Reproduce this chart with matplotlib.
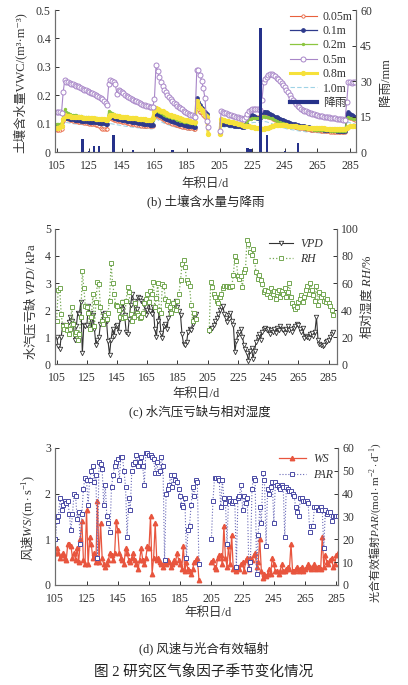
import numpy as np
import matplotlib
matplotlib.use('Agg')
import matplotlib.pyplot as plt
from matplotlib.lines import Line2D

plt.rcParams['font.family'] = ['Liberation Serif', 'Noto Sans CJK SC', 'DejaVu Sans']
plt.rcParams['mathtext.fontset'] = 'custom'
plt.rcParams['mathtext.rm'] = 'Liberation Serif'
plt.rcParams['mathtext.it'] = 'Liberation Serif:italic'

nan = float('nan')

# ---------------- data (day of year 105 .. 288) ----------------
days = np.arange(105, 289)
xticks = list(range(105, 286, 20))

# soil water content, m3/m3
vwc_005 = [
    .078, .078, .078, .080, .110, .122, .118, .115, .113, .112,
    .110, .109, .108, .107, .106, .105, .104, .103, .102, .101,
    .100, .099, .098, .097, .096, .095, .090, .083, .082, .082,
    .081, .080, .120, .118, .116, .114, .112, .110, .109, .108,
    .106, .105, .104, .102, .101, .100, .099, .098, .097, .096,
    .095, .094, .093, .093, .092, .091, .091, .090, .090, .090,
    .125, .130, .126, .122, .118, .115, .112, .109, .106, .104,
    .102, .100, .098, .096, .094, .092, .091, .089, .088, .087,
    .086, .085, .084, .083, .082, .080, .160, .150, .142, .136,
    .130, .124, .118, nan, nan, nan, nan, nan, nan, nan,
    nan, .105, .104, .103, .102, .101, .100, .099, .098, .097,
    .096, .095, .094, .093, .092, .090, .100, .115, .120, .121,
    .122, .123, .123, .124, .125, .125, .130, .130, .128, .126,
    .124, .122, .120, .117, .114, .111, .108, .106, .104, .102,
    .100, .098, .096, .094, .092, .090, .089, .088, .087, .086,
    .085, .084, .083, .082, .081, .080, .079, .078, .077, .077,
    .076, .076, .075, .075, .074, .074, .073, .073, .072, .072,
    .072, .071, .071, .070, .070, .070, .070, .069, .125, .122,
    .120, .118, .116, .114]
vwc_01 = [
    .090, .090, .090, .092, .115, .125, .120, .118, .117, .116,
    .115, .114, .113, .112, .111, .110, .110, .109, .108, .108,
    .107, .106, .106, .105, .104, .104, .103, .102, .102, .101,
    .100, .100, .125, .124, .122, .120, .118, .117, .116, .115,
    .114, .112, .111, .110, .109, .108, .107, .106, .105, .104,
    .103, .102, .101, .100, .099, .098, .097, .096, .095, .095,
    .130, .138, .134, .130, .126, .123, .120, .117, .115, .112,
    .110, .108, .106, .104, .102, .100, .099, .097, .096, .094,
    .093, .092, .091, .090, .089, .088, .190, .175, .165, .155,
    .145, .140, .135, nan, nan, nan, nan, nan, nan, nan,
    nan, .100, .099, .098, .097, .097, .096, .095, .094, .093,
    .093, .092, .091, .090, .089, .088, .100, .125, .135, .132,
    .129, .126, .123, .121, .119, .120, .140, .142, .140, .140,
    .138, .135, .132, .128, .125, .122, .119, .116, .113, .111,
    .108, .106, .104, .102, .100, .098, .097, .095, .094, .093,
    .092, .091, .090, .089, .088, .087, .086, .085, .084, .083,
    .082, .081, .080, .080, .079, .079, .078, .078, .077, .077,
    .076, .076, .075, .075, .075, .074, .074, .074, .135, .140,
    .135, .130, .127, .123]
vwc_02 = [
    .100, .100, .100, .102, .130, .150, .142, .137, .134, .132,
    .131, .130, .129, .128, .127, .126, .125, .124, .123, .122,
    .121, .121, .120, .119, .118, .118, .117, .116, .116, .115,
    .115, .114, .145, .140, .136, .133, .131, .129, .127, .126,
    .125, .124, .123, .122, .121, .120, .119, .118, .117, .116,
    .116, .115, .114, .114, .113, .113, .112, .112, .111, .112,
    .140, .148, .144, .140, .137, .134, .131, .128, .126, .124,
    .122, .120, .118, .116, .114, .112, .110, .109, .107, .106,
    .105, .104, .103, .102, .101, .100, .170, .160, .152, .146,
    .140, .135, .130, nan, nan, nan, nan, nan, nan, nan,
    nan, .110, .109, .108, .107, .106, .105, .104, .103, .102,
    .101, .100, .099, .098, .097, .096, .100, .110, .115, .117,
    .118, .119, .120, .120, .121, .121, .125, .126, .125, .124,
    .122, .120, .118, .115, .112, .110, .107, .105, .103, .101,
    .099, .097, .095, .093, .092, .090, .089, .088, .087, .086,
    .085, .084, .083, .082, .081, .081, .080, .080, .079, .079,
    .078, .078, .077, .077, .077, .076, .076, .076, .075, .075,
    .075, .075, .074, .074, .074, .074, .074, .074, .120, .122,
    .120, .118, .116, .115]
vwc_05 = [
    .140, .140, .140, .138, .210, .255, .248, .246, .243, .241,
    .239, .236, .234, .231, .228, .225, .222, .220, .217, .214,
    .211, .208, .206, .203, .199, .196, .193, .189, .185, .180,
    .174, .167, .240, .255, .250, .246, .238, .205, .218, .214,
    .210, .206, .202, .198, .194, .190, .187, .184, .181, .178,
    .175, .172, .170, .167, .165, .163, .162, .160, .158, .160,
    .185, .305, .285, .265, .245, .232, .220, .210, .200, .192,
    .185, .179, .173, .168, .163, .158, .154, .150, .146, .142,
    .138, .135, .132, .129, .127, .125, .287, .287, .272, .250,
    .225, .190, .110, .088, nan, nan, nan, nan, nan, nan,
    .073, .143, .140, .138, .136, .134, .132, .130, .128, .126,
    .124, .122, .120, .118, .116, .115, .125, .135, .143, .148,
    .150, .152, .152, .152, .150, .148, .182, .245, .258, .265,
    .270, .274, .275, .272, .268, .262, .256, .250, .243, .236,
    .228, .220, .210, .200, .190, .182, .175, .168, .162, .157,
    .153, .149, .146, .143, .141, .139, .137, .135, .133, .131,
    .130, .128, .127, .126, .125, .124, .123, .122, .121, .120,
    .119, .118, .117, .116, .115, .115, .114, .114, .175, .245,
    .245, .243, .246, .247]
vwc_08 = [
    .085, .085, .087, .090, .115, .130, .128, .127, .126, .125,
    .124, .124, .123, .123, .122, .122, .121, .121, .120, .120,
    .119, .119, .118, .118, .117, .117, .116, .116, .115, .115,
    .114, .113, .125, .130, .130, .129, .128, .127, .126, .125,
    .124, .124, .123, .122, .121, .121, .120, .119, .118, .118,
    .117, .116, .116, .115, .115, .114, .114, .113, .113, .120,
    .145, .155, .152, .149, .146, .143, .140, .137, .135, .132,
    .130, .128, .126, .124, .122, .120, .118, .116, .114, .112,
    .111, .110, .108, .107, .106, .105, .180, .165, .155, .148,
    .140, .130, .124, .063, nan, nan, nan, nan, nan, nan,
    .063, .115, .113, .112, .110, .109, .107, .106, .104, .103,
    .101, .100, .098, .097, .095, .093, .092, .091, .090, .089,
    .088, .087, .086, .085, .084, .083, .082, .082, .083, .084,
    .086, .088, .090, .092, .094, .095, .096, .096, .095, .095,
    .094, .094, .093, .092, .092, .091, .090, .090, .089, .089,
    .088, .088, .087, .087, .086, .086, .085, .085, .085, .084,
    .084, .084, .083, .083, .083, .082, .082, .082, .081, .081,
    .081, .081, .080, .080, .080, .080, .080, .082, .085, .088,
    .090, .091, .092, .093]
vwc_10 = [
    .082, .082, .082, .083, .095, .105, .104, .103, .102, .101,
    .100, .099, .099, .098, .097, .097, .096, .095, .095, .094,
    .093, .093, .092, .092, .091, .091, .090, .090, .089, .089,
    .088, .088, .100, .100, .099, .098, .097, .096, .095, .094,
    .093, .092, .091, .090, .090, .089, .088, .087, .087, .086,
    .085, .085, .084, .084, .083, .083, .082, .082, .081, .082,
    .110, .118, .114, .110, .107, .104, .101, .099, .097, .095,
    .093, .091, .089, .088, .086, .085, .083, .082, .081, .079,
    .078, .077, .076, .075, .074, .073, .150, .140, .133, .127,
    .122, .117, .112, nan, nan, nan, nan, nan, nan, nan,
    nan, .090, .089, .088, .088, .087, .086, .085, .085, .084,
    .083, .083, .082, .081, .081, .080, .085, .095, .100, .102,
    .103, .104, .104, .105, .105, .106, .108, .108, .107, .106,
    .104, .102, .100, .097, .095, .093, .091, .089, .087, .085,
    .084, .082, .081, .080, .079, .078, .077, .076, .075, .074,
    .073, .073, .072, .071, .071, .070, .070, .069, .069, .068,
    .068, .067, .067, .067, .066, .066, .066, .065, .065, .065,
    .065, .064, .064, .064, .064, .063, .063, .063, .100, .105,
    .103, .101, .100, .099]

rain_day = [121, 125, 128, 131, 140, 152, 176, 222, 224, 230, 234, 245, 253]
rain_mm = [5.5, 0.6, 2.6, 2.5, 7.3, 1.0, 0.7, 1.6, 1.2, 52.5, 7.3, 0.4, 3.8]

# vapour pressure deficit (kPa) and relative humidity (%)
vpd = [
    1.00, 0.65, 0.55, 1.00, 1.45, 1.40, 1.30, 1.25, 1.55, 1.75,
    1.60, 1.50, 0.90, 1.40, 1.90, 1.85, 2.30, 0.40, 1.45, 1.40,
    1.45, 2.15, 1.90, 1.30, 1.80, 1.30, 0.70, 0.90, 1.00, 1.50,
    1.60, 1.85, 1.90, 1.60, 0.85, 0.35, 0.90, 1.30, 1.05, 1.40,
    1.45, 1.20, 1.65, 2.05, 2.30, 1.80, 1.20, 1.10, 1.65, 2.20,
    2.60, 2.35, 1.80, 2.05, 2.50, 2.45, 2.35, 2.25, 2.20, 1.80,
    2.00, 2.30, 1.95, 1.85, 2.10, 1.30, 1.00, 1.60, 1.90, 1.15,
    0.95, 1.40, 1.50, 1.30, 1.70, 1.90, 1.95, 2.15, 2.25, 2.35,
    2.10, 1.95, 1.80, 1.10, 0.75, 0.70, 0.80, 1.20, 1.30, 1.25,
    1.50, 1.80, 1.85, nan, nan, nan, nan, nan, nan, nan,
    nan, 1.22, 1.30, 1.35, 1.45, 1.60, 1.70, 1.85, 2.00, 2.10,
    2.15, 1.85, 1.70, 1.55, 1.80, 1.90, 1.60, 1.45, 0.46, 0.85,
    1.10, 1.20, 1.30, 1.00, 0.70, 0.55, 0.40, 0.10, 0.50, 0.60,
    0.20, 0.50, 0.80, 1.00, 1.10, 0.90, 1.20, 1.30, 1.32, 1.25,
    1.30, 1.10, 1.25, 1.20, 1.30, 1.15, 1.35, 1.25, 1.40, 1.30,
    1.25, 1.15, 1.30, 1.40, 1.25, 1.30, 1.20, 1.35, 1.40, 1.50,
    1.45, 1.30, 1.20, 1.35, 0.95, 1.05, 1.00, 0.95, 1.10, 1.15,
    1.05, 1.20, 1.75, 0.90, 0.75, 0.70, 0.65, 0.70, 0.80, 0.85,
    0.90, 1.00, 1.10, 1.20]
rh = [
    32, 55, 56, 37, 28, 26, 29, 25, 22, 26,
    42, 30, 22, 24, 18, 22, 35, 69, 56, 43,
    42, 38, 26, 35, 52, 28, 46, 61, 59, 42,
    32, 30, 36, 33, 38, 47, 75, 60, 52, 44,
    43, 40, 35, 46, 34, 35, 47, 57, 53, 37,
    32, 35, 45, 38, 36, 34, 35, 38, 45, 48,
    52, 46, 54, 52, 61, 42, 49, 60, 40, 38,
    59, 58, 48, 44, 47, 42, 38, 45, 41, 40,
    47, 52, 62, 74, 77, 72, 62, 60, 58, 44,
    32, 38, 33, nan, nan, nan, nan, nan, nan, nan,
    nan, 25, 61, 57, 52, 50, 47, 45, 50, 52,
    56, 58, 58, 58, 57, 57, 58, 66, 80, 76,
    65, 63, 65, 57, 68, 70, 92, 89, 83, 81,
    85, 76, 68, 63, 66, 62, 59, 53, 55, 52,
    54, 50, 56, 52, 54, 48, 53, 55, 50, 54,
    52, 56, 50, 53, 60, 50, 45, 43, 41, 42,
    46, 48, 51, 46, 50, 55, 58, 52, 60, 55,
    51, 47, 58, 44, 53, 50, 52, 47, 46, 48,
    45, 43, 40, 36]

# wind speed (m/s) and PAR (mol m-2 d-1)
ws = [
    0.70, 0.80, 0.70, 0.60, 0.65, 0.70, 0.60, 0.55, 0.90, 0.90,
    0.85, 0.60, 0.70, 0.55, 0.80, 0.50, 1.00, 1.40, 0.55, 0.45,
    1.65, 0.45, 1.05, 0.90, 0.60, 0.70, 0.50, 1.85, 0.50, 1.35,
    0.60, 0.45, 0.40, 0.45, 0.55, 0.70, 0.65, 0.55, 0.70, 1.40,
    1.20, 0.70, 0.60, 0.55, 0.45, 0.80, 0.70, 0.55, 0.50, 0.60,
    0.70, 0.55, 0.45, 0.35, 0.55, 0.80, 0.55, 0.45, 0.60, 0.85,
    0.80, 1.50, 0.25, 0.60, 1.35, 0.55, 0.60, 0.50, 0.45, 0.40,
    0.50, 0.45, 0.55, 0.50, 0.40, 0.45, 0.55, 0.50, 0.70, 0.55,
    0.45, 0.35, 0.85, 0.30, 0.50, 0.35, 0.30, 0.25, 0.35, 0.50,
    0.55, 0.60, 0.12, nan, nan, nan, nan, nan, nan, nan,
    0.50, 0.55, 0.40, 0.35, 0.60, 0.65, 0.65, 0.45, 1.30, 0.60,
    0.40, 0.85, 0.45, 1.10, 0.35, 0.40, 0.30, 0.40, 0.35, 0.45,
    0.50, 0.30, 0.55, 0.60, 0.35, 0.60, 0.55, 0.65, 0.70, 0.40,
    0.50, 1.00, 0.30, 0.15, 0.25, 0.20, 0.25, 0.35, 0.25, 0.60,
    0.45, 0.30, 0.30, 0.25, 0.30, 0.45, 0.30, 0.30, 0.35, 0.40,
    0.35, 0.90, 0.30, 0.30, 0.35, 0.40, 0.30, 0.35, 0.40, 0.30,
    0.35, 0.40, 0.45, 0.40, 0.35, 0.40, 0.45, 0.35, 0.40, 0.40,
    0.35, 1.05, 0.40, 0.65, 0.50, 0.45, 0.55, 0.60, 0.40, 0.45,
    0.65, 0.70, nan, nan]
par = [
    20, 28, 30, 38, 33, 35, 37, 36, 37, 31,
    24, 31, 40, 39, 29, 32, 18, 31, 42, 47,
    46, 35, 46, 50, 52, 45, 48, 12, 54, 53,
    51, 35, 44, 30, 27, 23, 43, 48, 52, 54,
    55, 46, 56, 56, 50, 43, 21, 38, 33, 50,
    53, 54, 57, 52, 54, 56, 52, 44, 58, 58,
    57, 57, 56, 55, 49, 54, 49, 50, 56, 52,
    11, 40, 42, 44, 48, 43, 48, 46, 45, 42,
    39, 35, 34, 38, 12, 24, 26, 35, 43, 39,
    46, 45, 9, nan, nan, nan, nan, nan, nan, nan,
    20, 37, 47, 47, 47, 46, 34, 46, 38, 36,
    18, 38, 37, 36, 37, 37, 8, 38, 39, 44,
    33, 39, 36, 38, 7, 10, 42, 47, 46, 5,
    22, 34, 27, 49, 46, 17, 42, 40, 43, 45,
    27, 45, 44, 43, 42, 44, 43, 21, 43, 42,
    41, 41, 40, 39, 34, 32, 30, 38, 38, 37,
    37, 37, 36, 23, 26, 26, 34, 34, 33, 33,
    34, 33, 16, 33, 31, 32, 32, 28, 30, 30,
    30, 30, nan, nan]

TXT = '#333333'
SPINE = '#6e6e6e'
CJK = 'Noto Sans CJK SC'


def style(ax, ax2, xlim):
    for a in (ax, ax2):
        a.spines['top'].set_visible(False)
        for s in ('left', 'right', 'bottom'):
            a.spines[s].set_color(SPINE)
            a.spines[s].set_linewidth(0.8)
        a.tick_params(direction='in', length=3, width=0.7, colors=TXT,
                      labelsize=8.5, pad=3)
    ax.tick_params(axis='x', pad=5.5)
    ax.set_xlim(*xlim)
    ax.set_xticks(xticks)
    ax.set_xlabel('年积日/d', fontsize=9, color=TXT)


fig = plt.figure(figsize=(4.08, 6.85), dpi=100)

# ---------------- (b) soil water content and rain ----------------
ax = fig.add_axes([0.1348, 0.7781, 0.7377, 0.2073])
ax2 = ax.twinx()
l10m = ax.plot(days, vwc_10, color='#9fd3e6', lw=0.8, dashes=(4, 2))[0]
l005 = ax.plot(days, vwc_005, color='#e8603c', lw=0.8, marker='o', ms=2.4,
               mfc='white', mew=0.6)[0]
l01 = ax.plot(days, vwc_01, color='#2e3a8c', lw=0.9, marker='o', ms=2.4)[0]
l02 = ax.plot(days, vwc_02, color='#8cc63f', lw=0.9, marker='o', ms=1.4)[0]
l08 = ax.plot(days, vwc_08, color='#f6e13a', lw=2.2, marker='o', ms=2.8)[0]
l05 = ax.plot(days, vwc_05, color='#a886c8', lw=0.8, marker='o', ms=3.6,
              mfc='white', mew=0.7)[0]
ax2.bar(rain_day, rain_mm, width=1.5, color='#25318a')
ax.set_ylim(0, 0.5)
ax.set_yticks([0, 0.1, 0.2, 0.3, 0.4, 0.5], ['0', '0.1', '0.2', '0.3', '0.4', '0.5'])
ax2.set_ylim(0, 60)
ax2.set_yticks([0, 15, 30, 45, 60])
style(ax, ax2, (104, 288.7))
ax.set_ylabel('土壤含水量VWC/(m³·m⁻³)', fontsize=9, color=TXT)
ax.yaxis.set_label_coords(-0.09, 0.49)
ax2.set_ylabel('降雨/mm', fontsize=9, color=TXT)
ax2.yaxis.set_label_coords(1.08, 0.49)
ax.xaxis.set_label_coords(0.5, -0.18)
rain_h = Line2D([], [], color='#25318a', lw=3)
ax2.legend([l005, l01, l02, l05, l08, l10m, rain_h],
           ['0.05m', '0.1m', '0.2m', '0.5m', '0.8m', '1.0m', '降雨'],
           loc='upper left', bbox_to_anchor=(0.78, 0.995), frameon=False,
           fontsize=8.5, handlelength=2.3, handletextpad=0.5,
           labelspacing=0.2, borderpad=0, borderaxespad=0, labelcolor=TXT)
fig.text(0.505, 0.705, '(b) 土壤含水量与降雨', ha='center', va='center',
         fontsize=9, color='#222222')

# ---------------- (c) VPD and RH ----------------
ax = fig.add_axes([0.1348, 0.4686, 0.6912, 0.1971])
ax2 = ax.twinx()
lv = ax.plot(days, vpd, color='#333333', lw=0.8, marker='v', ms=3.2,
             mfc='white', mew=0.6)[0]
lr = ax2.plot(days, rh, color='#74a852', lw=0.9, ls=':', marker='s', ms=3.4,
              mfc='white', mew=0.7)[0]
ax.set_ylim(0, 5)
ax.set_yticks([0, 1, 2, 3, 4, 5])
ax2.set_ylim(0, 100)
ax2.set_yticks([0, 20, 40, 60, 80, 100])
style(ax, ax2, (103.9, 290.6))
ax.set_ylabel(r'水汽压亏缺 $\mathit{VPD}\mathrm{/\ kPa}$', fontsize=9,
              color=TXT, family=CJK)
ax.yaxis.set_label_coords(-0.06, 0.46)
ax2.set_ylabel(r'相对湿度 $\mathit{RH}\mathrm{/\%}$', fontsize=9,
               color=TXT, family=CJK)
ax2.yaxis.set_label_coords(1.074, 0.5)
ax.xaxis.set_label_coords(0.5, -0.18)
ax2.legend([lv, lr], ['VPD', 'RH'], loc='upper left',
           bbox_to_anchor=(0.76, 0.93), frameon=False,
           prop={'family': 'Liberation Serif', 'style': 'italic', 'size': 8.5},
           handlelength=2.0, handletextpad=0.6, labelspacing=0.2,
           borderpad=0, borderaxespad=0, labelcolor=TXT)
fig.text(0.49, 0.399, '(c) 水汽压亏缺与相对湿度', ha='center', va='center',
         fontsize=9, color='#222222')

# ---------------- (d) wind speed and PAR ----------------
ax = fig.add_axes([0.1348, 0.146, 0.6936, 0.2])
ax2 = ax.twinx()
lw_ = ax.plot(days, ws, color='#e8553e', lw=0.9, marker='^', ms=3.2)[0]
lp = ax2.plot(days, par, color='#6a6ab8', lw=0.8, ls=':', marker='s', ms=3.4,
              mfc='white', mec='#4b4ba5', mew=0.7)[0]
ax.set_ylim(0, 3)
ax.set_yticks([0, 1, 2, 3])
ax2.set_ylim(0, 60)
ax2.set_yticks([0, 10, 20, 30, 40, 50, 60])
style(ax, ax2, (104.8, 286.1))
ax.set_ylabel(r'风速$\mathit{WS}\mathrm{/(m\cdot s^{-1})}$', fontsize=9,
              color=TXT, family=CJK)
ax.yaxis.set_label_coords(-0.064, 0.49)
ax2.set_ylabel(r'光合有效辐射$\mathit{PAR}\mathrm{/(mol\cdot m^{-2}\cdot d^{-1})}$',
               fontsize=8, color=TXT, family=CJK)
ax2.yaxis.set_label_coords(1.106, 0.45)
ax.xaxis.set_label_coords(0.54, -0.16)
ax2.legend([lw_, lp], ['WS', 'PAR'], loc='upper left',
           bbox_to_anchor=(0.79, 0.96), frameon=False,
           prop={'family': 'Liberation Serif', 'style': 'italic', 'size': 8.5},
           handlelength=2.3, handletextpad=0.6, labelspacing=0.3,
           borderpad=0, borderaxespad=0, labelcolor=TXT)
fig.text(0.5, 0.054, '(d) 风速与光合有效辐射', ha='center', va='center',
         fontsize=9, color='#222222')
fig.text(0.5, 0.019, '图 2 研究区气象因子季节变化情况', ha='center', va='center',
         fontsize=10.5, color='#222222')

fig.savefig('out.png', dpi=100)
